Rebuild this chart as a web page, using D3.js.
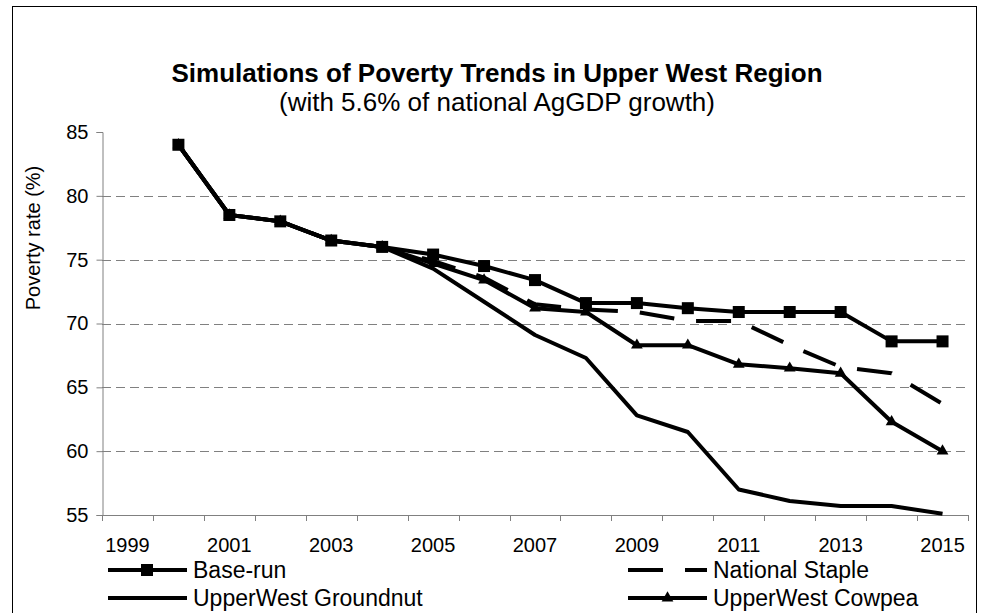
<!DOCTYPE html>
<meta charset="utf-8">
<script src="https://d3js.org/d3.v7.min.js"></script>
<style>
 body { margin: 0; background: #fff; font-family: 'Liberation Sans', Arial, sans-serif; }
</style>
<div id="chart"></div>
<script>

 // categories on the x axis (1999 has no data)
 const categories = ["1999","2000","2001","2002","2003","2004","2005","2006","2007","2008","2009","2010","2011","2012","2013","2014","2015"];
 const years = ["2000","2001","2002","2003","2004","2005","2006","2007","2008","2009","2010","2011","2012","2013","2014","2015"];
 const xTickLabels = ["1999","2001","2003","2005","2007","2009","2011","2013","2015"];
 const yTicks = [55, 60, 65, 70, 75, 80, 85];

 // poverty rate (%)
 const baseRun   = [84, 78.5, 78, 76.5, 76, 75.4, 74.5, 73.4, 71.6, 71.6, 71.2, 70.9, 70.9, 70.9, 68.6, 68.6];
 const staple    = [84, 78.5, 78, 76.5, 76, 74.9, 73.6, 71.5, 71.1, 70.9, 70.2, 70.2, 68.3, 66.6, 66.1, 63.7];
 const groundnut = [84, 78.5, 78, 76.5, 76, 74.3, 71.7, 69.1, 67.3, 62.8, 61.5, 57.0, 56.1, 55.7, 55.7, 55.1];
 const cowpea    = [84, 78.5, 78, 76.5, 76, 74.7, 73.4, 71.2, 70.9, 68.3, 68.3, 66.8, 66.5, 66.1, 62.3, 60.0];

 const W = 987, H = 613;
 const plot = {left: 102, right: 968, top: 132, bottom: 515};
 const fontSize = "20px";

 const svg = d3.select("#chart").append("svg")
               .attr("width", W).attr("height", H);

 // chart area border
 svg.append("rect").attr("x", 12.5).attr("y", 6.5).attr("width", 964).attr("height", 700)
    .attr("fill", "none").attr("stroke", "#000").attr("stroke-width", 1);

 // titles
 svg.append("text").attr("x", 497).attr("y", 82).attr("text-anchor", "middle")
    .style("font-size", "26px").style("font-weight", "bold")
    .text("Simulations of Poverty Trends in Upper West Region");
 svg.append("text").attr("x", 497).attr("y", 111).attr("text-anchor", "middle")
    .style("font-size", "26px")
    .text("(with 5.6% of national AgGDP growth)");

 const x = d3.scaleBand().domain(categories).range([plot.left, plot.right]).padding(0);
 const y = d3.scaleLinear().domain([55, 85]).range([plot.bottom, plot.top]);
 const cx = d => x(d) + x.bandwidth() / 2;

 // gridlines
 svg.append("g").selectAll("line")
    .data(yTicks.filter(t => t > 55 && t < 85))
    .join("line")
    .attr("x1", plot.left).attr("x2", plot.right)
    .attr("y1", d => Math.round(y(d)) + 0.5).attr("y2", d => Math.round(y(d)) + 0.5)
    .attr("stroke", "#808080").attr("stroke-width", 1).attr("stroke-dasharray", "9,5");

 // y axis
 const yAxis = svg.append("g").attr("transform", `translate(${plot.left + 0.5},0)`)
    .call(d3.axisLeft(y).tickValues(yTicks).tickSize(6).tickPadding(8).tickFormat(d3.format("d")));
 yAxis.select(".domain").attr("stroke", "#808080");
 yAxis.selectAll(".tick line").attr("stroke", "#808080");
 yAxis.selectAll("text").style("font-size", fontSize).style("font-family", "'Liberation Sans', Arial, sans-serif").attr("fill", "#000");

 // x axis: ticks between categories, labels on every other category
 const xg = svg.append("g");
 xg.append("line").attr("x1", plot.left).attr("x2", plot.right)
   .attr("y1", plot.bottom + 0.5).attr("y2", plot.bottom + 0.5).attr("stroke", "#808080");
 xg.selectAll("line.tk").data(categories.concat(["end"]))
   .join("line").attr("class", "tk")
   .attr("x1", (d, i) => Math.round(plot.left + i * x.bandwidth()) + 0.5)
   .attr("x2", (d, i) => Math.round(plot.left + i * x.bandwidth()) + 0.5)
   .attr("y1", plot.bottom).attr("y2", plot.bottom + 6).attr("stroke", "#808080");
 xg.selectAll("text").data(xTickLabels).join("text")
   .attr("x", d => cx(d)).attr("y", 552).attr("text-anchor", "middle")
   .style("font-size", fontSize).text(d => d);

 // y axis title
 svg.append("text").attr("transform", "translate(40,238) rotate(-90)")
    .attr("text-anchor", "middle").style("font-size", fontSize)
    .text("Poverty rate (%)");

 const line = d3.line().x(d => cx(d[0])).y(d => y(d[1]));
 const pairs = vals => years.map((yr, i) => [yr, vals[i]]);
 const triangle = d3.symbol().type(d3.symbolTriangle).size(60);

 const series = [
   {name: "Base-run", values: baseRun, dash: null, marker: "square"},
   {name: "National Staple", values: staple, dash: "35,22", marker: null},
   {name: "UpperWest Groundnut", values: groundnut, dash: null, marker: null},
   {name: "UpperWest Cowpea", values: cowpea, dash: null, marker: "triangle"}
 ];

 const lines = svg.append("g");
 series.forEach(s => {
   lines.append("path").datum(pairs(s.values))
        .attr("d", line).attr("fill", "none").attr("stroke", "#000")
        .attr("stroke-width", 4)
        .attr("stroke-linejoin", "round")
        .attr("stroke-dasharray", s.dash);
   if (s.marker === "square") {
     lines.append("g").selectAll("rect").data(pairs(s.values)).join("rect")
          .attr("x", d => cx(d[0]) - 6).attr("y", d => y(d[1]) - 6)
          .attr("width", 12).attr("height", 12).attr("fill", "#000");
   } else if (s.marker === "triangle") {
     lines.append("g").selectAll("path").data(pairs(s.values)).join("path")
          .attr("d", triangle).attr("fill", "#000")
          .attr("transform", d => `translate(${cx(d[0])},${y(d[1])})`);
   }
 });

 // legend
 const legendPos = [
   {x: 108, y: 570}, {x: 628, y: 570}, {x: 108, y: 598}, {x: 628, y: 598}
 ];
 series.forEach((s, k) => {
   const p = legendPos[k];
   const g = svg.append("g").attr("transform", `translate(${p.x},${p.y})`);
   g.append("line").attr("x1", 0).attr("x2", 79).attr("y1", 0).attr("y2", 0)
    .attr("stroke", "#000").attr("stroke-width", 4)
    .attr("stroke-dasharray", s.dash ? "35,22,22" : null);
   if (s.marker === "square") {
     g.append("rect").attr("x", 33).attr("y", -6).attr("width", 12).attr("height", 12).attr("fill", "#000");
   } else if (s.marker === "triangle") {
     g.append("path").attr("d", triangle).attr("transform", "translate(39.5,0)").attr("fill", "#000");
   }
   g.append("text").attr("x", 85).attr("y", 8).style("font-size", "23px").text(s.name);
 });

</script>
